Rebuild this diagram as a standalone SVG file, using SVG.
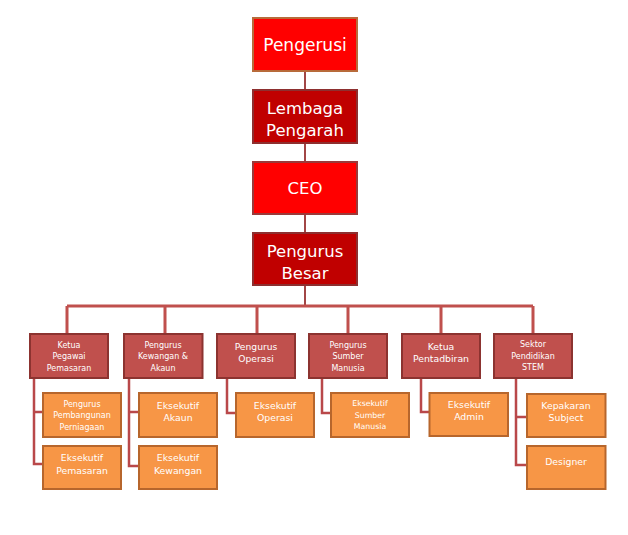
<svg xmlns="http://www.w3.org/2000/svg" width="628" height="535" viewBox="0 0 628 535">
<style>
.t{font-family:"DejaVu Sans","Liberation Sans",sans-serif;fill:#fff;text-anchor:middle;dominant-baseline:central}
.top1{fill:#FF0000;stroke:#B86B3A;stroke-width:2}
.top2{fill:#C00000;stroke:#8E2F2F;stroke-width:2}
.top3{fill:#FF0000;stroke:#9A3A3A;stroke-width:2}
.l2{fill:#C0504D;stroke:#8C3330;stroke-width:2}
.l3{fill:#F79646;stroke:#B7662C;stroke-width:2}
.c{fill:none;stroke:#A24646;stroke-width:2}
.b{fill:none;stroke:#C0504D;stroke-width:3}
.s{fill:none;stroke:#B9484A;stroke-width:2.5}
</style>
<rect width="628" height="535" fill="#fff"/>
<g id="connectors">
<path class="c" d="M305 71V90M305 143V162M305 214V233M305 285V306"/>
<path class="b" d="M67 306H533M67 306V334M165 306V334M257 306V334M348 306V334M441 306V334M533 306V334"/>
<path class="s" d="M34 378V464H43M34 412H43"/>
<path class="s" d="M129 378V466H139M129 412H139"/>
<path class="s" d="M227 378V413H236"/>
<path class="s" d="M322 378V413H331"/>
<path class="s" d="M421 378V412H429"/>
<path class="s" d="M516 378V465H527M516 417H527"/>
</g>
<g id="pengerusi"><rect class="top1" x="253" y="18" width="104" height="53"/><text class="t" x="305" y="45" font-size="17">Pengerusi</text></g>
<g id="lembaga"><rect class="top2" x="253" y="90" width="104" height="53"/><text class="t" x="305" y="108" font-size="16.5">Lembaga</text><text class="t" x="305" y="130" font-size="16.5">Pengarah</text></g>
<g id="ceo"><rect class="top3" x="253" y="162" width="104" height="52"/><text class="t" x="305" y="188" font-size="16.5">CEO</text></g>
<g id="pengurus-besar"><rect class="top2" x="253" y="233" width="104" height="52"/><text class="t" x="305" y="251" font-size="16.5">Pengurus</text><text class="t" x="305" y="273" font-size="16.5">Besar</text></g>

<g id="ketua-pemasaran"><rect class="l2" x="30" y="334" width="78" height="44"/><text class="t" font-size="8" x="69" y="345">Ketua</text><text class="t" font-size="8" x="69" y="356.7">Pegawai</text><text class="t" font-size="8" x="69" y="368.3">Pemasaran</text></g>
<g id="pengurus-kewangan"><rect class="l2" x="124" y="334" width="78.5" height="44"/><text class="t" font-size="8" x="163" y="345">Pengurus</text><text class="t" font-size="8" x="163" y="356.7">Kewangan &amp;</text><text class="t" font-size="8" x="163" y="368.3">Akaun</text></g>
<g id="pengurus-operasi"><rect class="l2" x="217" y="334" width="78" height="44"/><text class="t" font-size="9.2" x="256" y="346">Pengurus</text><text class="t" font-size="9.2" x="256" y="358.5">Operasi</text></g>
<g id="pengurus-sumber"><rect class="l2" x="309" y="334" width="78" height="44"/><text class="t" font-size="8" x="348" y="345">Pengurus</text><text class="t" font-size="8" x="348" y="356.7">Sumber</text><text class="t" font-size="8" x="348" y="368.3">Manusia</text></g>
<g id="ketua-pentadbiran"><rect class="l2" x="402" y="334" width="78" height="44"/><text class="t" font-size="9.3" x="441" y="346">Ketua</text><text class="t" font-size="9.3" x="441" y="358.5">Pentadbiran</text></g>
<g id="sektor-stem"><rect class="l2" x="494" y="334" width="78" height="44"/><text class="t" font-size="8" x="533" y="344.5">Sektor</text><text class="t" font-size="8" x="533" y="356">Pendidikan</text><text class="t" font-size="8" x="533" y="367.7">STEM</text></g>

<g id="pengurus-pembangunan"><rect class="l3" x="43" y="393" width="78" height="44"/><text class="t" font-size="8" x="82" y="404.3">Pengurus</text><text class="t" font-size="8" x="82" y="415.7">Pembangunan</text><text class="t" font-size="8" x="82" y="427.3">Perniagaan</text></g>
<g id="eksekutif-pemasaran"><rect class="l3" x="43" y="446" width="78" height="43"/><text class="t" font-size="9.3" x="82" y="457.3">Eksekutif</text><text class="t" font-size="9.3" x="82" y="470">Pemasaran</text></g>
<g id="eksekutif-akaun"><rect class="l3" x="139" y="393" width="78" height="44"/><text class="t" font-size="9.3" x="178" y="405">Eksekutif</text><text class="t" font-size="9.3" x="178" y="417.7">Akaun</text></g>
<g id="eksekutif-kewangan"><rect class="l3" x="139" y="446" width="78" height="43"/><text class="t" font-size="9.3" x="178" y="457.3">Eksekutif</text><text class="t" font-size="9.3" x="178" y="470">Kewangan</text></g>
<g id="eksekutif-operasi"><rect class="l3" x="236" y="393" width="78" height="44"/><text class="t" font-size="9.3" x="275" y="405">Eksekutif</text><text class="t" font-size="9.3" x="275" y="417.7">Operasi</text></g>
<g id="eksekutif-sumber"><rect class="l3" x="331" y="393" width="78" height="44"/><text class="t" font-size="7.8" x="370" y="403.3">Eksekutif</text><text class="t" font-size="7.8" x="370" y="415">Sumber</text><text class="t" font-size="7.8" x="370" y="426.7">Manusia</text></g>
<g id="eksekutif-admin"><rect class="l3" x="429.5" y="393" width="78.5" height="43"/><text class="t" font-size="9.3" x="469" y="404">Eksekutif</text><text class="t" font-size="9.3" x="469" y="416.7">Admin</text></g>
<g id="kepakaran-subject"><rect class="l3" x="527" y="394" width="78.5" height="43"/><text class="t" font-size="9.3" x="566" y="405">Kepakaran</text><text class="t" font-size="9.3" x="566" y="417.7">Subject</text></g>
<g id="designer"><rect class="l3" x="527" y="446" width="78.5" height="43"/><text class="t" font-size="9.3" x="566" y="461.7">Designer</text></g>
</svg>
